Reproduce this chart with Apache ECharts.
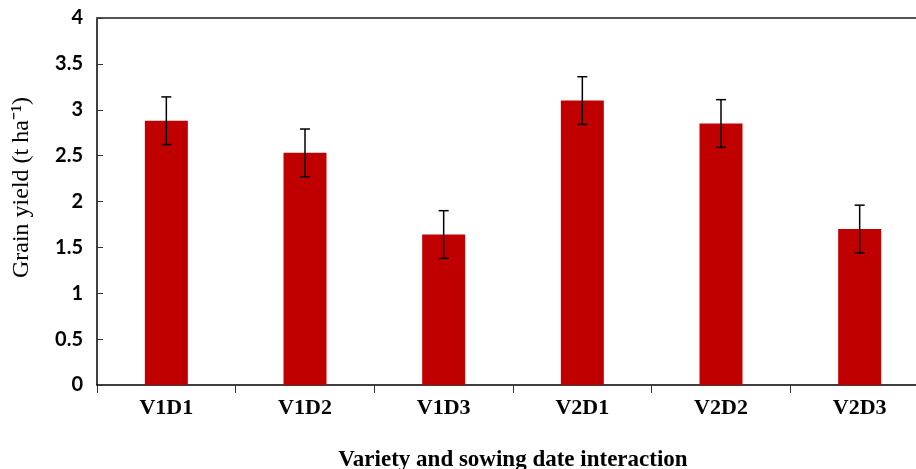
<!DOCTYPE html>
<html><head><meta charset="utf-8">
<script src="https://cdn.jsdelivr.net/npm/echarts@6/dist/echarts.min.js"></script>
<style>html,body{margin:0;padding:0;background:#fff}#c{width:916px;height:469px}</style>
</head><body><div id="c"></div>
<script>
const categories = ['V1D1','V1D2','V1D3','V2D1','V2D2','V2D3'];
const yieldValues = [2.88, 2.53, 1.64, 3.10, 2.85, 1.70];
const errorValues = [0.26, 0.26, 0.26, 0.26, 0.26, 0.26];
const yTicks = {min: 0, max: 4, interval: 0.5};

const errData = categories.map((c, i) => [i, yieldValues[i] - errorValues[i], yieldValues[i] + errorValues[i]]);

const chart = echarts.init(document.getElementById('c'));
chart.setOption({
  animation: false,
  backgroundColor: '#fff',
  grid: {left: 97, top: 18, bottom: 84, width: 832, outerBoundsMode: 'none', containLabel: false},
  xAxis: [{
    type: 'category', data: categories, position: 'bottom',
    axisLine: {lineStyle: {color: '#000', width: 1.5}},
    axisTick: {show: true, inside: false, length: 8, lineStyle: {color: '#333', width: 1}},
    axisLabel: {color: '#000', fontFamily: 'Liberation Serif', fontWeight: 'bold', fontSize: 22, margin: 12},
    name: 'Variety and sowing date interaction', nameLocation: 'middle', nameGap: 64,
    nameTextStyle: {color: '#000', fontFamily: 'Liberation Serif', fontWeight: 'bold', fontSize: 23}
  }, {
    type: 'category', data: categories, position: 'top',
    axisLine: {lineStyle: {color: '#555', width: 2}},
    axisTick: {show: false}, axisLabel: {show: false}
  }],
  yAxis: {
    type: 'value', min: yTicks.min, max: yTicks.max, interval: yTicks.interval,
    axisLine: {show: true, lineStyle: {color: '#000', width: 1.5}},
    axisTick: {show: true, inside: true, length: 6, lineStyle: {color: '#333'}},
    splitLine: {show: false},
    axisLabel: {color: '#000', fontFamily: 'Lato', fontWeight: 'bold', fontSize: 20, margin: 14},
    name: 'Grain yield (t ha\u207B\u00B9)', nameLocation: 'middle', nameGap: 63, nameRotate: 90,
    nameTextStyle: {color: '#000', fontFamily: 'Liberation Serif', fontWeight: 'normal', fontSize: 24, padding: [0, 0, 0, 28]}
  },
  series: [{
    type: 'bar', data: yieldValues, barWidth: 43,
    itemStyle: {color: '#C00000'}
  }, {
    type: 'custom', data: errData, z: 10,
    renderItem: function (params, api) {
      const x = api.value(0);
      const lo = api.coord([x, api.value(1)]);
      const hi = api.coord([x, api.value(2)]);
      const hw = 5;
      const st = {stroke: '#000', lineWidth: 1.5};
      return {type: 'group', children: [
        {type: 'line', shape: {x1: lo[0], y1: lo[1], x2: hi[0], y2: hi[1]}, style: st},
        {type: 'line', shape: {x1: lo[0]-hw, y1: lo[1], x2: lo[0]+hw, y2: lo[1]}, style: st},
        {type: 'line', shape: {x1: hi[0]-hw, y1: hi[1], x2: hi[0]+hw, y2: hi[1]}, style: st}
      ]};
    }
  }]
});
</script></body></html>
